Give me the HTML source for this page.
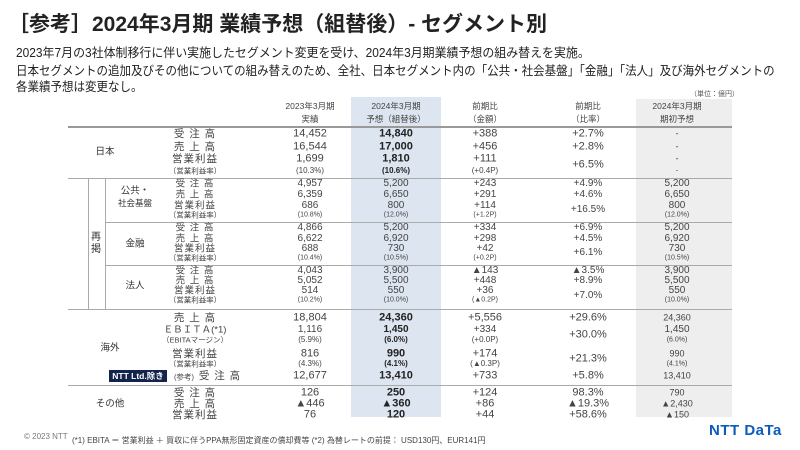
<!DOCTYPE html>
<html><head><meta charset="utf-8">
<style>
body{margin:0;background:#fff}
#s{position:relative;width:800px;height:450px;overflow:hidden;background:#fff;font-family:"Liberation Sans","Noto Sans CJK JP",sans-serif;color:#333}
.a{position:absolute;white-space:nowrap}
.t{position:absolute;white-space:nowrap;transform:translate(-50%,-50%);line-height:1}
.hl{position:absolute;height:1px;background:#aaa}
</style></head><body>
<div id="s">
<div class="a" style="left:8px;top:8px;font-size:21px;font-weight:bold;color:#222">［参考］2024年3月期 業績予想（組替後）- セグメント別</div>
<div class="a" style="left:16px;top:42px;font-size:12.5px;color:#222;transform:scaleX(0.955);transform-origin:0 0">2023年7月の3社体制移行に伴い実施したセグメント変更を受け、2024年3月期業績予想の組み替えを実施。</div>
<div class="a" style="left:16px;top:63px;font-size:12.5px;color:#222;line-height:16px;transform:scaleX(0.92);transform-origin:0 0">日本セグメントの追加及びその他についての組み替えのため、全社、日本セグメント内の「公共・社会基盤」「金融」「法人」及び海外セグメントの<br>各業績予想は変更なし。</div>
<div class="a" style="left:351px;top:97px;width:90px;height:320px;background:#dde5f0"></div>
<div class="a" style="left:636px;top:99px;width:96px;height:318px;background:#eeeeee"></div>
<div class="a" style="left:690px;top:89px;font-size:7px;color:#555">（単位：億円）</div>
<div class="hl" style="left:68px;top:126px;width:664px;height:2px;background:#999"></div>
<div class="hl" style="left:68px;top:178px;width:664px"></div>
<div class="hl" style="left:105px;top:222px;width:627px"></div>
<div class="hl" style="left:105px;top:265px;width:627px"></div>
<div class="hl" style="left:68px;top:309px;width:664px"></div>
<div class="hl" style="left:68px;top:385px;width:664px"></div>
<div class="a" style="left:88px;top:178px;width:1px;height:131px;background:#aaa"></div>
<div class="a" style="left:105px;top:178px;width:1px;height:131px;background:#aaa"></div>
<div class="a" style="left:91px;top:232px;font-size:10px;line-height:12px;width:12px">再<br>掲</div>
<div class="a" style="left:109px;top:370px;width:58px;height:12px;background:#14234b;color:#fff;font-size:8.5px;font-weight:bold;line-height:12px;text-align:center">NTT Ltd.除き</div>
<div class="a" style="left:24px;top:432px;font-size:8px;color:#777">© 2023 NTT</div>
<div class="a" style="left:72px;top:435px;font-size:8px;color:#444">(*1) EBITA ＝ 営業利益 ＋ 買収に伴うPPA無形固定資産の償却費等 (*2) 為替レートの前提： USD130円、EUR141円</div>
<div class="a" style="left:709px;top:422px;font-size:15px;font-weight:bold;color:#0b5cbd;letter-spacing:0.5px">NTT DaTa</div>
</div>
<script>
var s=document.getElementById('s');
function T(x,y,txt,fs,bold,color,name){
  var d=document.createElement('div');d.className='t';
  d.style.left=x+'px';d.style.top=y+'px';d.style.fontSize=fs+'px';
  if(bold)d.style.fontWeight='bold';if(color)d.style.color=color;
  d.textContent=txt;
  
  
  s.appendChild(d);
  return d;
}
var colX=[310,396,485,588,677];
var headers=[["2023年3月期","実績"],["2024年3月期","予想（組替後）"],["前期比","（金額）"],["前期比","（比率）"],["2024年3月期","期初予想"]];
headers.forEach(function(h,i){T(colX[i],106,h[0],8.5,false,'#444','column-header');T(colX[i],119,h[1],8.5,false,'#444','column-header-sub');});
var segs=[["日本",105,152],["公共・",135,191],["社会基盤",135,203],["金融",135,244],["法人",135,286],["海外",110,348],["その他",110,404]];
segs.forEach(function(g){T(g[1],g[2],g[0],g[0].length>3?8.5:9.5,false,'#333','segment-label');});
var rows=[
[134,"受 注 高",0,["14,452","14,840","+388","+2.7%","-"],1,11],
[147,"売 上 高",0,["16,544","17,000","+456","+2.8%","-"],1,11],
[159,"営業利益",0,["1,699","1,810","+111","","-"],1,11],
[171,"（営業利益率）",1,["(10.3%)","(10.6%)","(+0.4P)","","-"],1,8],
[184,"受 注 高",0,["4,957","5,200","+243","+4.9%","5,200"],0,10],
[195,"売 上 高",0,["6,359","6,650","+291","+4.6%","6,650"],0,10],
[206,"営業利益",0,["686","800","+114","","800"],0,10],
[215,"（営業利益率）",1,["(10.8%)","(12.0%)","(+1.2P)","","(12.0%)"],0,7],
[228,"受 注 高",0,["4,866","5,200","+334","+6.9%","5,200"],0,10],
[239,"売 上 高",0,["6,622","6,920","+298","+4.5%","6,920"],0,10],
[249,"営業利益",0,["688","730","+42","","730"],0,10],
[258,"（営業利益率）",1,["(10.4%)","(10.5%)","(+0.2P)","","(10.5%)"],0,7],
[271,"受 注 高",0,["4,043","3,900","▲143","▲3.5%","3,900"],0,10],
[281,"売 上 高",0,["5,052","5,500","+448","+8.9%","5,500"],0,10],
[291,"営業利益",0,["514","550","+36","","550"],0,10],
[300,"（営業利益率）",1,["(10.2%)","(10.0%)","(▲0.2P)","","(10.0%)"],0,7],
[318,"売 上 高",0,["18,804","24,360","+5,556","+29.6%","24,360"],1,11],
[330,"ＥＢＩＴＡ(*1)",0,["1,116","1,450","+334","","1,450"],1,10],
[340,"（EBITAマージン）",1,["(5.9%)","(6.0%)","(+0.0P)","","(6.0%)"],1,8],
[354,"営業利益",0,["816","990","+174","","990"],1,11],
[364,"（営業利益率）",1,["(4.3%)","(4.1%)","(▲0.3P)","","(4.1%)"],1,8],
[376,"受 注 高",0,["12,677","13,410","+733","+5.8%","13,410"],1,11],
[393,"受 注 高",0,["126","250","+124","98.3%","790"],1,11],
[404,"売 上 高",0,["▲446","▲360","+86","▲19.3%","▲2,430"],1,11],
[415,"営業利益",0,["76","120","+44","+58.6%","▲150"],1,11]
];
var ratios=[[165,"+6.5%",11],[210,"+16.5%",10],[253,"+6.1%",10],[296,"+7.0%",10],[335,"+30.0%",11],[359,"+21.3%",11]];
rows.forEach(function(r,k){
  var lx=(k==21)?220:195;
  var lab=T(lx,r[0],r[1],r[2]?7.5:(r[5]>=11?10.5:9.5),false,'#444','row-label');
  if(!r[2]&&r[1].length<=5)lab.style.letterSpacing='1px';
  r[3].forEach(function(v,i){
    if(!v)return;
    var fs=r[5];if(i==4&&!r[2]&&r[5]==11)fs=9;if(i==4&&r[2])fs=7;
    T(colX[i],r[0],v,fs,(i==1&&r[4]),i==1&&r[4]?'#222':'#444','cell-value');
  });
});
T(184,377,"(参考)",7.5,false,'#444','reference-note-label');
ratios.forEach(function(q){T(colX[3],q[0],q[1],q[2],false,'#444','ratio-value');});
</script>
</body></html>
